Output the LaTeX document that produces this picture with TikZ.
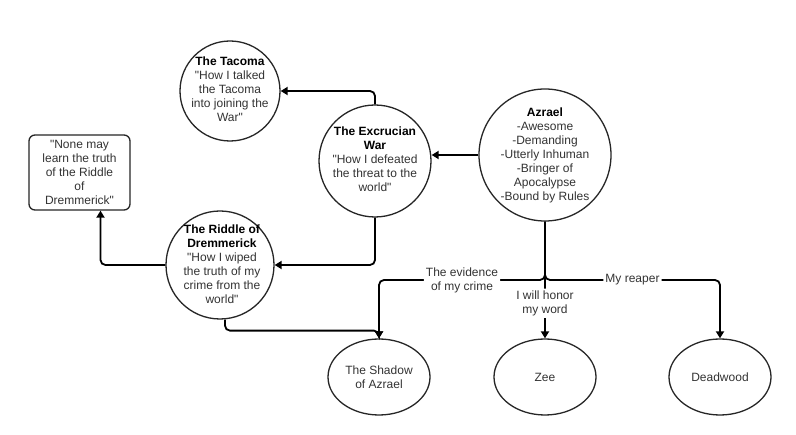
\documentclass[tikz,border=0pt]{standalone}
\usepackage{fontspec}
\setmainfont{Liberation Sans}
\usetikzlibrary{arrows.meta,shapes.geometric,calc}
\definecolor{txt}{HTML}{333333}
\begin{document}
\begin{tikzpicture}[x=1pt,y=-1pt,
  every node/.style={font=\fontsize{12}{14}\selectfont, text=txt},
  circ/.style={circle, draw=black!85, line width=1.3pt, inner sep=0pt},
  ell/.style={ellipse, draw=black!85, line width=1.3pt, minimum width=102pt, minimum height=76pt, inner sep=0pt, align=center},
  boxst/.style={rectangle, rounded corners=6pt, draw=black!85, line width=1.3pt, minimum width=101pt, minimum height=75pt, inner sep=0pt},
  lbl/.style={align=center, inner sep=0pt},
  arr/.style={line width=1.8pt, rounded corners=5pt, -{Triangle[width=8pt,length=7pt]}},
  elab/.style={fill=white, align=center, inner sep=2pt}]
\useasboundingbox[fill=white] (0,0) rectangle (796,435);
\newcommand{\ttlx}[1]{{\color{black}\textbf{#1}}}
\newcommand{\qq}{\textquotedbl}
% circles
\node[circ, minimum size=100pt] (ta) at (230,91) {};
\node[lbl] (tat) at (230,89) {\ttlx{The Tacoma}\\\qq How I talked\\the Tacoma\\into joining the\\War\qq};
\node[circ, minimum size=112pt] (ex) at (375,161) {};
\node[lbl] (ext) at (375,159) {\ttlx{The Excrucian}\\\ttlx{War}\\\qq How I defeated\\the threat to the\\world\qq};
\node[circ, minimum size=132pt] (az) at (545,155) {};
\node[lbl] (azt) at (545,155) {\ttlx{Azrael}\\-Awesome\\-Demanding\\-Utterly Inhuman\\-Bringer of\\Apocalypse\\-Bound by Rules};
\node[circ, minimum size=108pt] (ri) at (220,265) {};
\node[lbl] (rit) at (222,264) {\ttlx{The Riddle of}\\\ttlx{Dremmerick}\\\qq How I wiped\\the truth of my\\crime from the\\world\qq};
\node[boxst] (bx) at (79.5,172.5) {};
\node[lbl] (bxt) at (79.5,172.5) {\qq None may\\learn the truth\\of the Riddle\\of\\Dremmerick\qq};
% ellipses
\node[ell] (sh) at (379,377) {The Shadow\\of Azrael};
\node[ell] (ze) at (545,377) {Zee};
\node[ell] (dw) at (720,377) {Deadwood};
\coordinate (jn) at (545,280);
% connectors
\draw[arr] (ex.north) |- (ta.east);
\draw[arr] (az.west) -- (az.west -| ex.east);
\draw[arr] (ex.south) |- (ri.east);
\draw[arr] (ri.west) -| ([xshift=21pt]bx.south);
\draw[arr] ([xshift=5pt]ri.south) -- ++(0,11) -| (sh.north);
\draw[arr] (az.south) -- (jn) -| node[elab,pos=0.25]{The evidence\\of my crime} (sh.north);
\draw[arr] (az.south) -- (jn) -| node[elab,pos=0.25]{My reaper} (dw.north);
\draw[arr] (az.south) -- node[elab,pos=0.7]{I will honor\\my word} (ze.north);
\end{tikzpicture}
\end{document}
